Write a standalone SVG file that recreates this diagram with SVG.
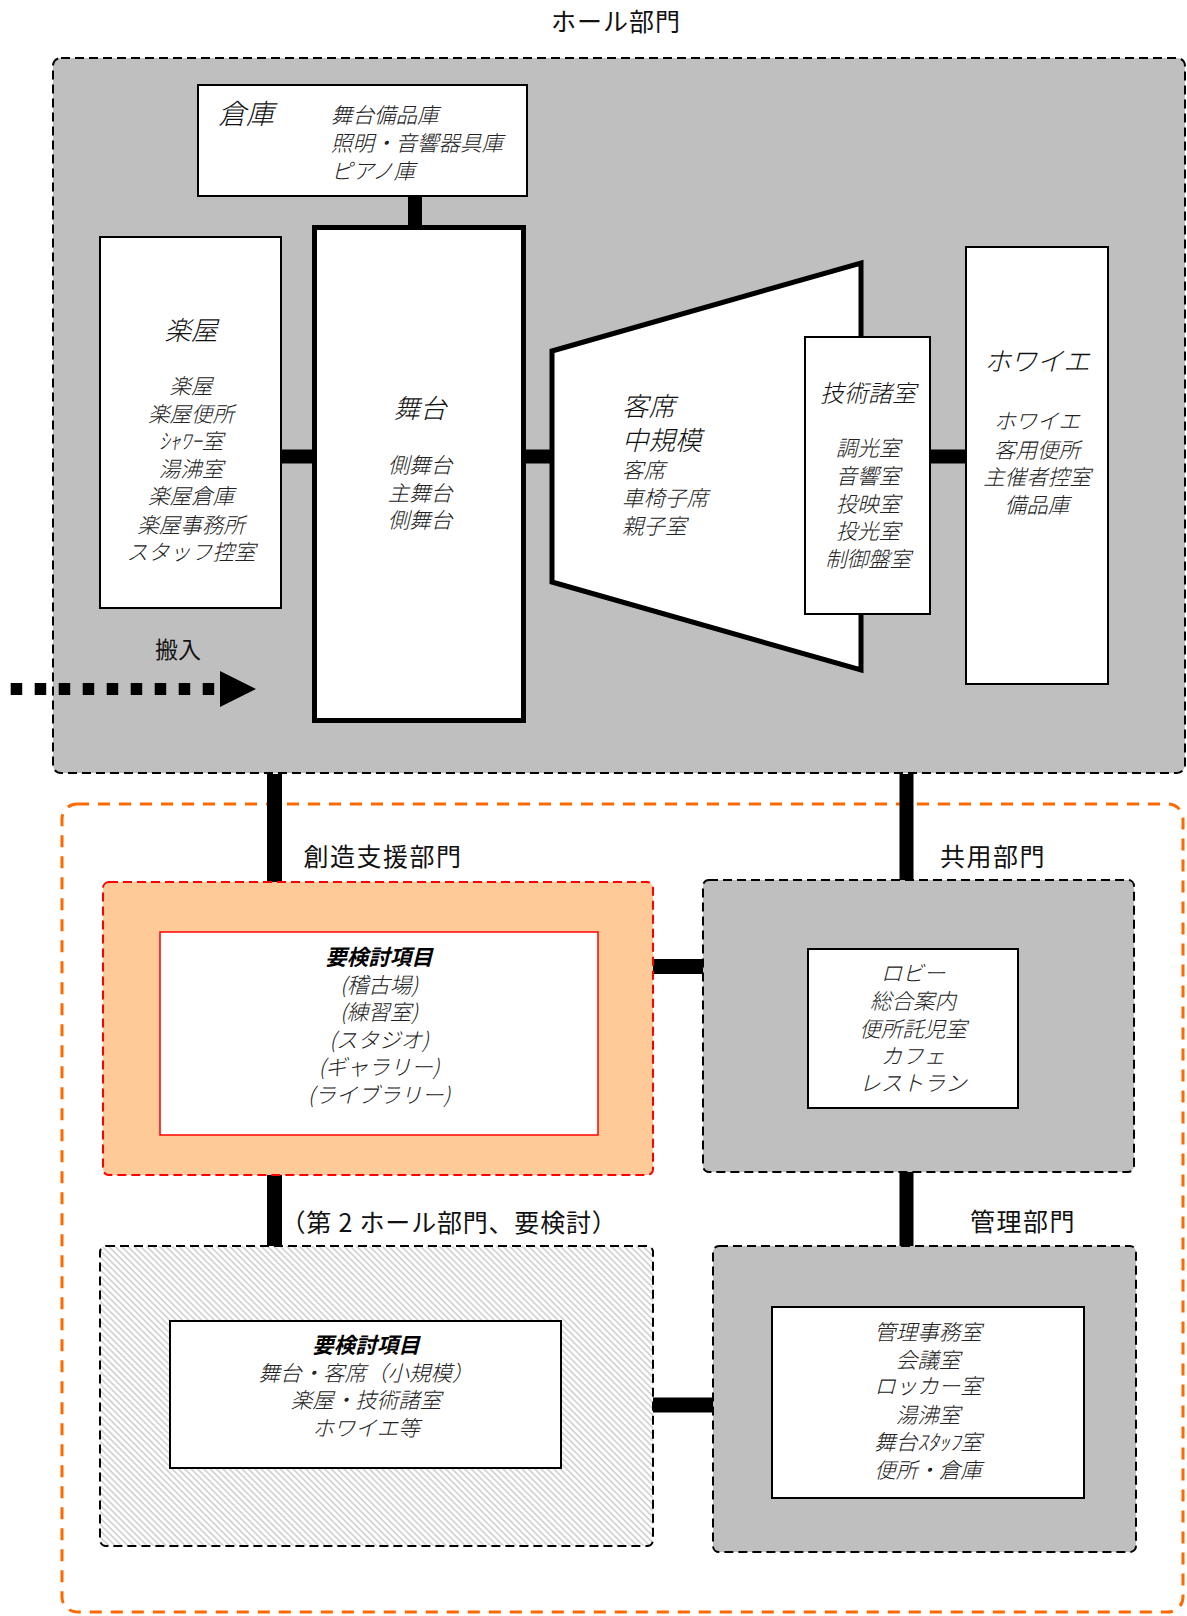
<svg xmlns="http://www.w3.org/2000/svg" width="1187" height="1616" viewBox="0 0 1187 1616">
<style>
text{font-family:"Noto Sans CJK JP","Noto Sans",sans-serif;fill:#111;dominant-baseline:central;transform:translateY(-2px)}
.lbl{font-size:25px;letter-spacing:1px;text-anchor:middle}
.ttl{font-size:26.5px;font-style:italic;font-weight:300;text-anchor:middle}
.it{font-size:21.5px;font-style:italic;font-weight:300;text-anchor:middle;fill:#222}
.itl{font-size:21.5px;font-style:italic;font-weight:300;fill:#222}
.bi{font-size:21.5px;font-style:italic;font-weight:bold;text-anchor:middle;fill:#000}
.box{fill:#fff;stroke:#000;stroke-width:2}
.dgray{fill:#bfbfbf;stroke:#000;stroke-width:2;stroke-dasharray:9 5}
.conn{stroke:#000;fill:none}
</style>
<defs>
<pattern id="hatch" patternUnits="userSpaceOnUse" width="4.5" height="4.5" patternTransform="rotate(-45)">
<rect width="4.5" height="4.5" fill="#fff"/>
<line x1="1" y1="0" x2="1" y2="4.5" stroke="#c4c4c4" stroke-width="1.3"/>
</pattern>
</defs>

<!-- area frames -->
<g id="hall-dept">
<rect x="53" y="58" width="1132" height="715" rx="8" class="dgray"/>
<text class="lbl" x="616" y="21.5">ホール部門</text>
</g>
<g id="other-depts-frame">
<rect x="62" y="804" width="1121" height="808" rx="15" fill="none" stroke="#ff6a00" stroke-width="3" stroke-dasharray="12 9"/>
</g>

<!-- connectors -->
<g id="connectors">
<line class="conn" x1="415" y1="196" x2="415" y2="225" stroke-width="14"/>
<line class="conn" x1="281" y1="456.5" x2="313" y2="456.5" stroke-width="14"/>
<line class="conn" x1="525" y1="456.5" x2="551" y2="456.5" stroke-width="14"/>
<line class="conn" x1="930" y1="456.5" x2="966" y2="456.5" stroke-width="14"/>
<line class="conn" x1="274.5" y1="774" x2="274.5" y2="882" stroke-width="15"/>
<line class="conn" x1="906.5" y1="774" x2="906.5" y2="880" stroke-width="14"/>
<line class="conn" x1="653" y1="966.5" x2="703" y2="966.5" stroke-width="15"/>
<line class="conn" x1="274.5" y1="1175" x2="274.5" y2="1246" stroke-width="15"/>
<line class="conn" x1="906.5" y1="1172" x2="906.5" y2="1246" stroke-width="14"/>
<line class="conn" x1="653" y1="1405" x2="713" y2="1405" stroke-width="15"/>
<line class="conn" x1="10.7" y1="689" x2="214.5" y2="689" stroke-width="12" stroke-dasharray="11.5 12.5"/>
<polygon points="220,671 256,689 220,707" fill="#000"/>
<text x="178" y="650" style="font-size:23px;text-anchor:middle">搬入</text>
</g>

<g id="storage">
<rect class="box" x="198" y="85" width="329" height="111"/>
<text x="218" y="114" style="font-size:28px;font-style:italic;font-weight:300">倉庫</text>
<text class="itl" x="331" y="115">舞台備品庫</text>
<text class="itl" x="331" y="143.5">照明・音響器具庫</text>
<text class="itl" x="331" y="171.5">ピアノ庫</text>
</g>

<g id="gakuya">
<rect class="box" x="100" y="237" width="181" height="371"/>
<text class="ttl" x="191" y="330">楽屋</text>
<text class="it" x="191" y="386.7">楽屋</text>
<text class="it" x="191" y="414">楽屋便所</text>
<text class="it" x="191" y="441.7">ｼｬﾜｰ室</text>
<text class="it" x="191" y="469">湯沸室</text>
<text class="it" x="191" y="496.7">楽屋倉庫</text>
<text class="it" x="191" y="525">楽屋事務所</text>
<text class="it" x="191" y="552.7">スタッフ控室</text>
</g>

<g id="stage">
<rect x="314.5" y="227.5" width="209" height="493" fill="#fff" stroke="#000" stroke-width="5"/>
<text class="ttl" x="420" y="408">舞台</text>
<text class="it" x="420" y="465">側舞台</text>
<text class="it" x="420" y="493">主舞台</text>
<text class="it" x="420" y="520">側舞台</text>
</g>

<g id="audience">
<polygon points="552,351 861,263 861,670 552,582" fill="#fff" stroke="#000" stroke-width="5" stroke-linejoin="miter"/>
<text x="622" y="406.7" style="font-size:26.5px;font-style:italic;font-weight:300">客席</text>
<text x="622" y="440" style="font-size:26.5px;font-style:italic;font-weight:300">中規模</text>
<text class="itl" x="622" y="470">客席</text>
<text class="itl" x="622" y="498.3">車椅子席</text>
<text class="itl" x="622" y="526">親子室</text>
</g>

<g id="tech">
<rect class="box" x="805" y="337" width="125" height="277"/>
<text class="ttl" x="868" y="393.3" style="font-size:24px">技術諸室</text>
<text class="it" x="868" y="448.3">調光室</text>
<text class="it" x="868" y="476.7">音響室</text>
<text class="it" x="868" y="504.3">投映室</text>
<text class="it" x="868" y="531.7">投光室</text>
<text class="it" x="868" y="559.3">制御盤室</text>
</g>

<g id="foyer">
<rect class="box" x="966" y="247" width="142" height="437"/>
<text class="ttl" x="1037" y="361.7">ホワイエ</text>
<text class="it" x="1037" y="421.7">ホワイエ</text>
<text class="it" x="1037" y="450">客用便所</text>
<text class="it" x="1037" y="477.3">主催者控室</text>
<text class="it" x="1037" y="505">備品庫</text>
</g>

<g id="creative">
<text class="lbl" x="383" y="856.7" style="letter-spacing:1.5px">創造支援部門</text>
<rect x="103" y="882" width="550" height="293" rx="6" fill="#fdca98" stroke="#ff0000" stroke-width="2" stroke-dasharray="9 5"/>
<rect x="160" y="932" width="438" height="203" fill="#fff" stroke="#ff0000" stroke-width="1.5"/>
<text class="bi" x="379" y="957.3">要検討項目</text>
<text class="it" x="379" y="985">(稽古場)</text>
<text class="it" x="379" y="1012.3">(練習室)</text>
<text class="it" x="379" y="1040">(スタジオ)</text>
<text class="it" x="379" y="1067.3">(ギャラリー)</text>
<text class="it" x="379" y="1095">(ライブラリー)</text>
</g>

<g id="common">
<text class="lbl" x="993" y="856.7" style="letter-spacing:1.5px">共用部門</text>
<rect x="703" y="880" width="431" height="292" rx="6" class="dgray"/>
<rect class="box" x="808" y="949" width="210" height="159"/>
<text class="it" x="913" y="973.3">ロビー</text>
<text class="it" x="913" y="1001.7">総合案内</text>
<text class="it" x="913" y="1029.3">便所託児室</text>
<text class="it" x="913" y="1056.7">カフェ</text>
<text class="it" x="913" y="1083.3">レストラン</text>
</g>

<g id="hall2">
<text class="lbl" x="449" y="1223" style="font-size:25px;letter-spacing:0.8px">（第 2 ホール部門、要検討）</text>
<rect x="100" y="1246" width="553" height="300" rx="6" fill="url(#hatch)" stroke="#000" stroke-width="2" stroke-dasharray="9 5"/>
<rect class="box" x="170" y="1321" width="391" height="147"/>
<text class="bi" x="366" y="1345.7">要検討項目</text>
<text class="it" x="366" y="1373.3">舞台・客席（小規模）</text>
<text class="it" x="366" y="1400.7">楽屋・技術諸室</text>
<text class="it" x="366" y="1428.3">ホワイエ等</text>
</g>

<g id="admin">
<text class="lbl" x="1023" y="1221.7" style="letter-spacing:1.5px">管理部門</text>
<rect x="713" y="1246" width="423" height="306" rx="6" class="dgray"/>
<rect class="box" x="772" y="1307" width="312" height="191"/>
<text class="it" x="928" y="1332.3">管理事務室</text>
<text class="it" x="928" y="1360">会議室</text>
<text class="it" x="928" y="1386.7">ロッカー室</text>
<text class="it" x="928" y="1415">湯沸室</text>
<text class="it" x="928" y="1442.3">舞台ｽﾀｯﾌ室</text>
<text class="it" x="928" y="1470">便所・倉庫</text>
</g>
</svg>
